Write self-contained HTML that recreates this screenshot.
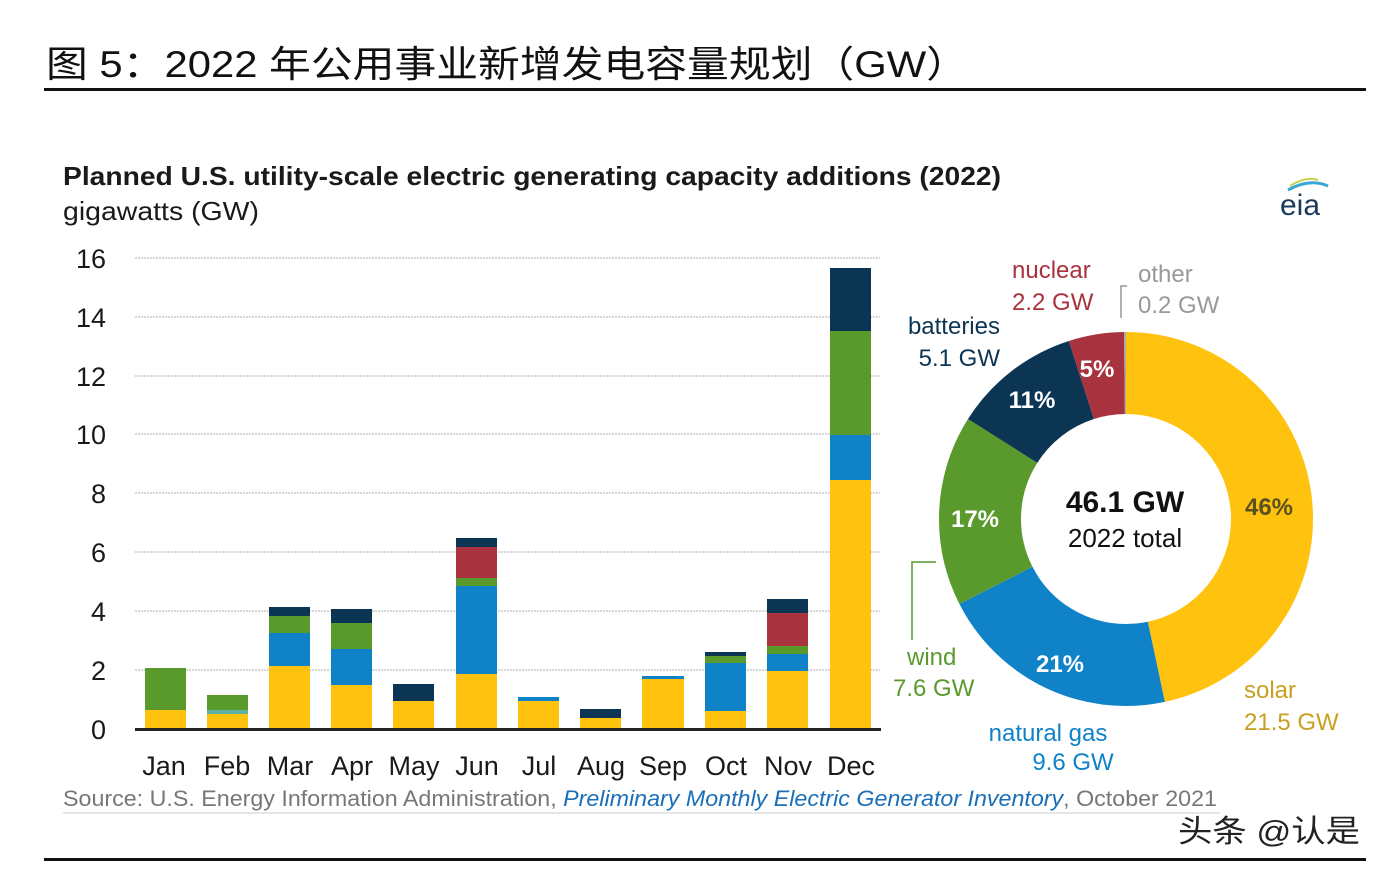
<!DOCTYPE html>
<html><head><meta charset="utf-8"><style>
body{margin:0;background:#fff;width:1386px;height:874px;overflow:hidden}
svg text{font-family:"Liberation Sans","Noto Sans CJK SC",sans-serif}
</style></head><body>
<svg width="1386" height="874" viewBox="0 0 1386 874" xmlns="http://www.w3.org/2000/svg">
<text x="46" y="77" font-size="37" fill="#111" textLength="922" lengthAdjust="spacingAndGlyphs">图 5：2022 年公用事业新增发电容量规划（GW）</text>
<rect x="44" y="88" width="1322" height="3" fill="#111"/>
<rect x="44" y="858" width="1322" height="3" fill="#111"/>
<text x="63" y="185" font-size="26" font-weight="bold" fill="#1a1a1a" textLength="938" lengthAdjust="spacingAndGlyphs">Planned U.S. utility-scale electric generating capacity additions (2022)</text>
<text x="63" y="220" font-size="26" fill="#1a1a1a" textLength="196" lengthAdjust="spacingAndGlyphs">gigawatts (GW)</text>
<text x="1280" y="215" font-size="30" fill="#1a3a5a" font-family="Liberation Serif,serif">eia</text>
<path d="M1288 190 Q1310 178 1328 186" stroke="#3aa7d8" stroke-width="3" fill="none"/>
<path d="M1290 186 Q1305 176 1318 180" stroke="#c8d24a" stroke-width="2" fill="none"/>
<g stroke="#c8c8c8" stroke-width="1.5" stroke-dasharray="2,1">
<line x1="135" y1="258" x2="880" y2="258"/><line x1="135" y1="317" x2="880" y2="317"/>
<line x1="135" y1="376" x2="880" y2="376"/><line x1="135" y1="434" x2="880" y2="434"/>
<line x1="135" y1="493" x2="880" y2="493"/><line x1="135" y1="552" x2="880" y2="552"/>
<line x1="135" y1="611" x2="880" y2="611"/><line x1="135" y1="670" x2="880" y2="670"/>
</g>
<g font-size="27" fill="#1a1a1a" text-anchor="end">
<text x="106" y="268">16</text><text x="106" y="327">14</text><text x="106" y="386">12</text><text x="106" y="444">10</text>
<text x="106" y="503">8</text><text x="106" y="562">6</text><text x="106" y="621">4</text><text x="106" y="680">2</text><text x="106" y="739">0</text>
</g>
<g>
<rect x="145" y="710" width="41" height="19" fill="#FFC20E"/><rect x="145" y="668" width="41" height="42" fill="#5a9a2c"/>
<rect x="207" y="714" width="41" height="15" fill="#FFC20E"/><rect x="207" y="710" width="41" height="4" fill="#5fb0a0"/><rect x="207" y="695" width="41" height="15" fill="#5a9a2c"/>
<rect x="269" y="666" width="41" height="63" fill="#FFC20E"/><rect x="269" y="633" width="41" height="33" fill="#0f82c8"/><rect x="269" y="616" width="41" height="17" fill="#5a9a2c"/><rect x="269" y="607" width="41" height="9" fill="#0c3553"/>
<rect x="331" y="685" width="41" height="44" fill="#FFC20E"/><rect x="331" y="649" width="41" height="36" fill="#0f82c8"/><rect x="331" y="623" width="41" height="26" fill="#5a9a2c"/><rect x="331" y="609" width="41" height="14" fill="#0c3553"/>
<rect x="393" y="701" width="41" height="28" fill="#FFC20E"/><rect x="393" y="684" width="41" height="17" fill="#0c3553"/>
<rect x="456" y="674" width="41" height="55" fill="#FFC20E"/><rect x="456" y="586" width="41" height="88" fill="#0f82c8"/><rect x="456" y="578" width="41" height="8" fill="#5a9a2c"/><rect x="456" y="547" width="41" height="31" fill="#a8323e"/><rect x="456" y="538" width="41" height="9" fill="#0c3553"/>
<rect x="518" y="701" width="41" height="28" fill="#FFC20E"/><rect x="518" y="697" width="41" height="4" fill="#0f82c8"/>
<rect x="580" y="718" width="41" height="11" fill="#FFC20E"/><rect x="580" y="709" width="41" height="9" fill="#0c3553"/>
<rect x="642" y="679" width="42" height="50" fill="#FFC20E"/><rect x="642" y="676" width="42" height="3" fill="#0f82c8"/>
<rect x="705" y="711" width="41" height="18" fill="#FFC20E"/><rect x="705" y="663" width="41" height="48" fill="#0f82c8"/><rect x="705" y="656" width="41" height="7" fill="#5a9a2c"/><rect x="705" y="652" width="41" height="4" fill="#0c3553"/>
<rect x="767" y="671" width="41" height="58" fill="#FFC20E"/><rect x="767" y="654" width="41" height="17" fill="#0f82c8"/><rect x="767" y="646" width="41" height="8" fill="#5a9a2c"/><rect x="767" y="613" width="41" height="33" fill="#a8323e"/><rect x="767" y="599" width="41" height="14" fill="#0c3553"/>
<rect x="830" y="480" width="41" height="249" fill="#FFC20E"/><rect x="830" y="435" width="41" height="45" fill="#0f82c8"/><rect x="830" y="331" width="41" height="104" fill="#5a9a2c"/><rect x="830" y="268" width="41" height="63" fill="#0c3553"/>
</g>
<rect x="135" y="728" width="746" height="3" fill="#222"/>
<g font-size="27" fill="#1a1a1a" text-anchor="middle">
<text x="164" y="775">Jan</text><text x="227" y="775">Feb</text><text x="290" y="775">Mar</text><text x="352" y="775">Apr</text>
<text x="414" y="775">May</text><text x="477" y="775">Jun</text><text x="539" y="775">Jul</text><text x="601" y="775">Aug</text>
<text x="663" y="775">Sep</text><text x="726" y="775">Oct</text><text x="788" y="775">Nov</text><text x="851" y="775">Dec</text>
</g>
<text x="63" y="806" font-size="22" fill="#777" textLength="1154" lengthAdjust="spacingAndGlyphs">Source: U.S. Energy Information Administration, <tspan fill="#1a6fb8" font-style="italic">Preliminary Monthly Electric Generator Inventory</tspan>, October 2021</text>
<line x1="63" y1="813" x2="1220" y2="813" stroke="#ccc" stroke-width="1"/>
<g transform="translate(1126,519) rotate(-90)" fill="none" stroke-width="82">
<circle r="146" stroke="#FFC20E" stroke-dasharray="427.9 917.3" stroke-dashoffset="0"/>
<circle r="146" stroke="#0f82c8" stroke-dasharray="191.0 917.3" stroke-dashoffset="-427.9"/>
<circle r="146" stroke="#5a9a2c" stroke-dasharray="151.2 917.3" stroke-dashoffset="-618.9"/>
<circle r="146" stroke="#0c3553" stroke-dasharray="101.5 917.3" stroke-dashoffset="-770.1"/>
<circle r="146" stroke="#a8323e" stroke-dasharray="43.8 917.3" stroke-dashoffset="-871.6"/>
<circle r="146" stroke="#aaa" stroke-dasharray="1.9 917.3" stroke-dashoffset="-915.4"/>
</g>
<g font-size="24" font-weight="bold" text-anchor="middle">
<text x="1269" y="515" fill="#5a5020">46%</text>
<text x="1060" y="672" fill="#fff">21%</text>
<text x="975" y="527" fill="#fff">17%</text>
<text x="1032" y="408" fill="#fff">11%</text>
<text x="1097" y="377" fill="#fff">5%</text>
</g>
<text x="1125" y="512" font-size="30" font-weight="bold" text-anchor="middle" fill="#111">46.1 GW</text>
<text x="1125" y="547" font-size="26" text-anchor="middle" fill="#111">2022 total</text>
<g font-size="24">
<text x="1012" y="278" fill="#a8323e">nuclear</text><text x="1012" y="310" fill="#a8323e">2.2 GW</text>
<text x="1138" y="282" fill="#999">other</text><text x="1138" y="313" fill="#999">0.2 GW</text>
<text x="1000" y="334" fill="#0c3553" text-anchor="end">batteries</text><text x="1000" y="366" fill="#0c3553" text-anchor="end">5.1 GW</text>
<text x="907" y="665" fill="#5a9a2c">wind</text><text x="893" y="696" fill="#5a9a2c">7.6 GW</text>
<text x="1048" y="741" fill="#0f82c8" text-anchor="middle">natural gas</text><text x="1073" y="770" fill="#0f82c8" text-anchor="middle">9.6 GW</text>
<text x="1244" y="698" fill="#c8a020">solar</text><text x="1244" y="730" fill="#c8a020">21.5 GW</text>
</g>
<polyline points="1127,286 1121,286 1121,318" stroke="#999" fill="none" stroke-width="1.5"/>
<polyline points="936,562 912,562 912,640" stroke="#5a9a2c" fill="none" stroke-width="1.5"/>
<text x="1178" y="842" font-size="31" fill="#222" textLength="182" lengthAdjust="spacingAndGlyphs">头条 @认是</text>
</svg>
</body></html>
